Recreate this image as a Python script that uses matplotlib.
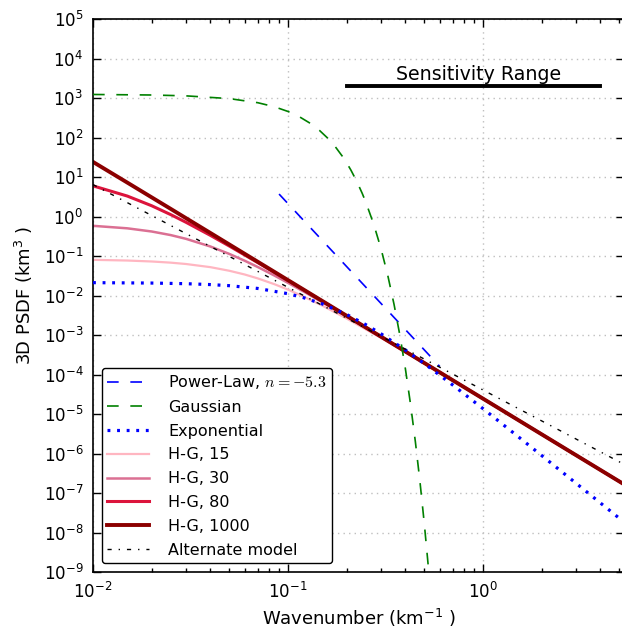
import matplotlib.pyplot as plt
from matplotlib.ticker import LogLocator

# Wavenumber grid (km^-1) shared by the H-G curves
k_hg = [0.01, 0.015, 0.02, 0.025, 0.03, 0.04, 0.05, 0.06, 0.07, 0.085,
        0.1, 0.12, 0.15, 0.2, 0.3, 0.5, 1.0, 2.0, 5.3]
hg15 = [0.0800, 0.0768, 0.0726, 0.0679, 0.0627, 0.0522, 0.0423, 0.0340, 0.0271, 0.0194,
        0.0141, 9.47e-3, 5.54e-3, 2.61e-3, 8.44e-4, 1.91e-4, 2.43e-5, 3.05e-6, 1.65e-7]
hg30 = [0.581, 0.502, 0.417, 0.339, 0.272, 0.174, 0.113, 0.0758, 0.0526, 0.0322,
        0.0209, 0.0127, 6.75e-3, 2.94e-3, 8.90e-4, 1.95e-4, 2.45e-5, 3.06e-6, 1.65e-7]
hg80 = [5.97, 3.29, 1.87, 1.12, 0.713, 0.333, 0.179, 0.106, 0.0681, 0.0386,
        0.0239, 0.0140, 7.19e-3, 3.04e-3, 9.05e-4, 1.96e-4, 2.45e-5, 3.06e-6, 1.65e-7]
hg1000 = [24.1, 7.21, 3.05, 1.567, 0.907, 0.383, 0.196, 0.1134, 0.0714, 0.0399,
          0.0245, 0.01418, 7.26e-3, 3.06e-3, 9.07e-4, 1.96e-4, 2.45e-5, 3.06e-6, 1.65e-7]

# Power-law segment
k_pl = [0.09, 0.6]
pl = [3.7, 1.6e-4]

# Gaussian model
k_gauss = [0.01, 0.02, 0.03, 0.05, 0.07, 0.085, 0.1, 0.115, 0.13, 0.145, 0.16, 0.175,
           0.19, 0.2, 0.21, 0.225, 0.24, 0.25, 0.275, 0.3, 0.325, 0.35, 0.375, 0.4,
           0.425, 0.45, 0.475, 0.5, 0.53, 0.55]
gauss = [1228, 1191, 1133, 966, 760, 602, 456, 330, 229, 151.4, 95.8, 58.0,
         33.5, 22.7, 15.1, 7.85, 3.9, 2.39, 0.645, 0.153, 0.0321, 5.9e-3, 9.7e-4, 1.4e-4,
         1.78e-5, 2.0e-6, 1.97e-7, 1.7e-8, 7.8e-10, 9e-11]

# Exponential model
k_exp = [0.01, 0.02, 0.03, 0.04, 0.05, 0.07, 0.1, 0.12, 0.15, 0.2, 0.25, 0.3, 0.4,
         0.5, 0.7, 1.0, 1.5, 2.0, 3.0, 5.3]
expo = [0.02114, 0.02066, 0.0199, 0.0189, 0.01773, 0.01508, 0.01111, 8.83e-3, 6.12e-3,
        3.31e-3, 1.84e-3, 1.071e-3, 4.17e-4, 1.892e-4, 5.41e-5, 1.369e-5, 2.78e-6,
        8.89e-7, 1.77e-7, 1.82e-8]

# Alternate model
k_alt = [0.01, 0.1, 1.0, 5.3]
alt = [6.43, 0.0161, 4.06e-5, 5.3e-7]

# Sensitivity range bar
sens_k = [0.2, 4.0]
sens_level = [2000, 2000]

plt.rcParams['font.family'] = 'DejaVu Sans'

fig = plt.figure(figsize=(6.22, 6.35), dpi=100)
ax = fig.add_axes([93 / 622, 63 / 635, 531.2 / 622, 553 / 635])

ax.plot(k_pl, pl, color='b', ls=(0, (7, 7)), lw=1.2, label='Power-Law, $n=-5.3$', zorder=3)
ax.plot(k_gauss, gauss, color='g', ls=(0, (7, 7)), lw=1.2, label='Gaussian', zorder=3)
ax.plot(k_exp, expo, color='b', ls=(0, (0.9, 2.1)), lw=2.3, label='Exponential', zorder=3)
ax.plot(k_hg, hg15, color='lightpink', lw=1.6, label='H-G, 15')
ax.plot(k_hg, hg30, color='palevioletred', lw=1.8, label='H-G, 30')
ax.plot(k_hg, hg80, color='crimson', lw=2.2, label='H-G, 80')
ax.plot(k_hg, hg1000, color='darkred', lw=2.8, label='H-G, 1000')
ax.plot(k_alt, alt, color='k', ls=(0, (3, 5, 1, 5)), lw=1.0, label='Alternate model', zorder=3)

ax.plot(sens_k, sens_level, color='k', lw=2.8)
ax.text(0.946, 2850, 'Sensitivity Range', ha='center', va='baseline', fontsize=13.7)

ax.set_xscale('log')
ax.set_yscale('log')
ax.set_xlim(0.01, 5.3)
ax.set_ylim(1e-9, 1e5)
ax.yaxis.set_major_locator(LogLocator(base=10, numticks=20))

ax.set_xlabel('Wavenumber (km$^{-1}$ )', fontsize=13)
ax.set_ylabel('3D PSDF (km$^3$ )', fontsize=13, labelpad=6)

ax.grid(True, which='major', color='0.75', ls=(0, (1, 3)), lw=1.0)
ax.tick_params(which='both', direction='in', top=True, right=True, labelsize=12, pad=7)
ax.tick_params(which='major', length=6, width=1)
ax.tick_params(which='minor', length=3, width=1)
for sp in ax.spines.values():
    sp.set_linewidth(1.2)

leg = ax.legend(loc='lower left', fontsize=11.5, handlelength=2.6, handletextpad=1.2,
                labelspacing=0.55, borderpad=0.35, fancybox=True, edgecolor='k',
                framealpha=1.0, borderaxespad=0.55)
leg.get_frame().set_linewidth(1.0)
leg.get_texts()[0].set_math_fontfamily('cm')

fig.savefig('out.png', dpi=100)
